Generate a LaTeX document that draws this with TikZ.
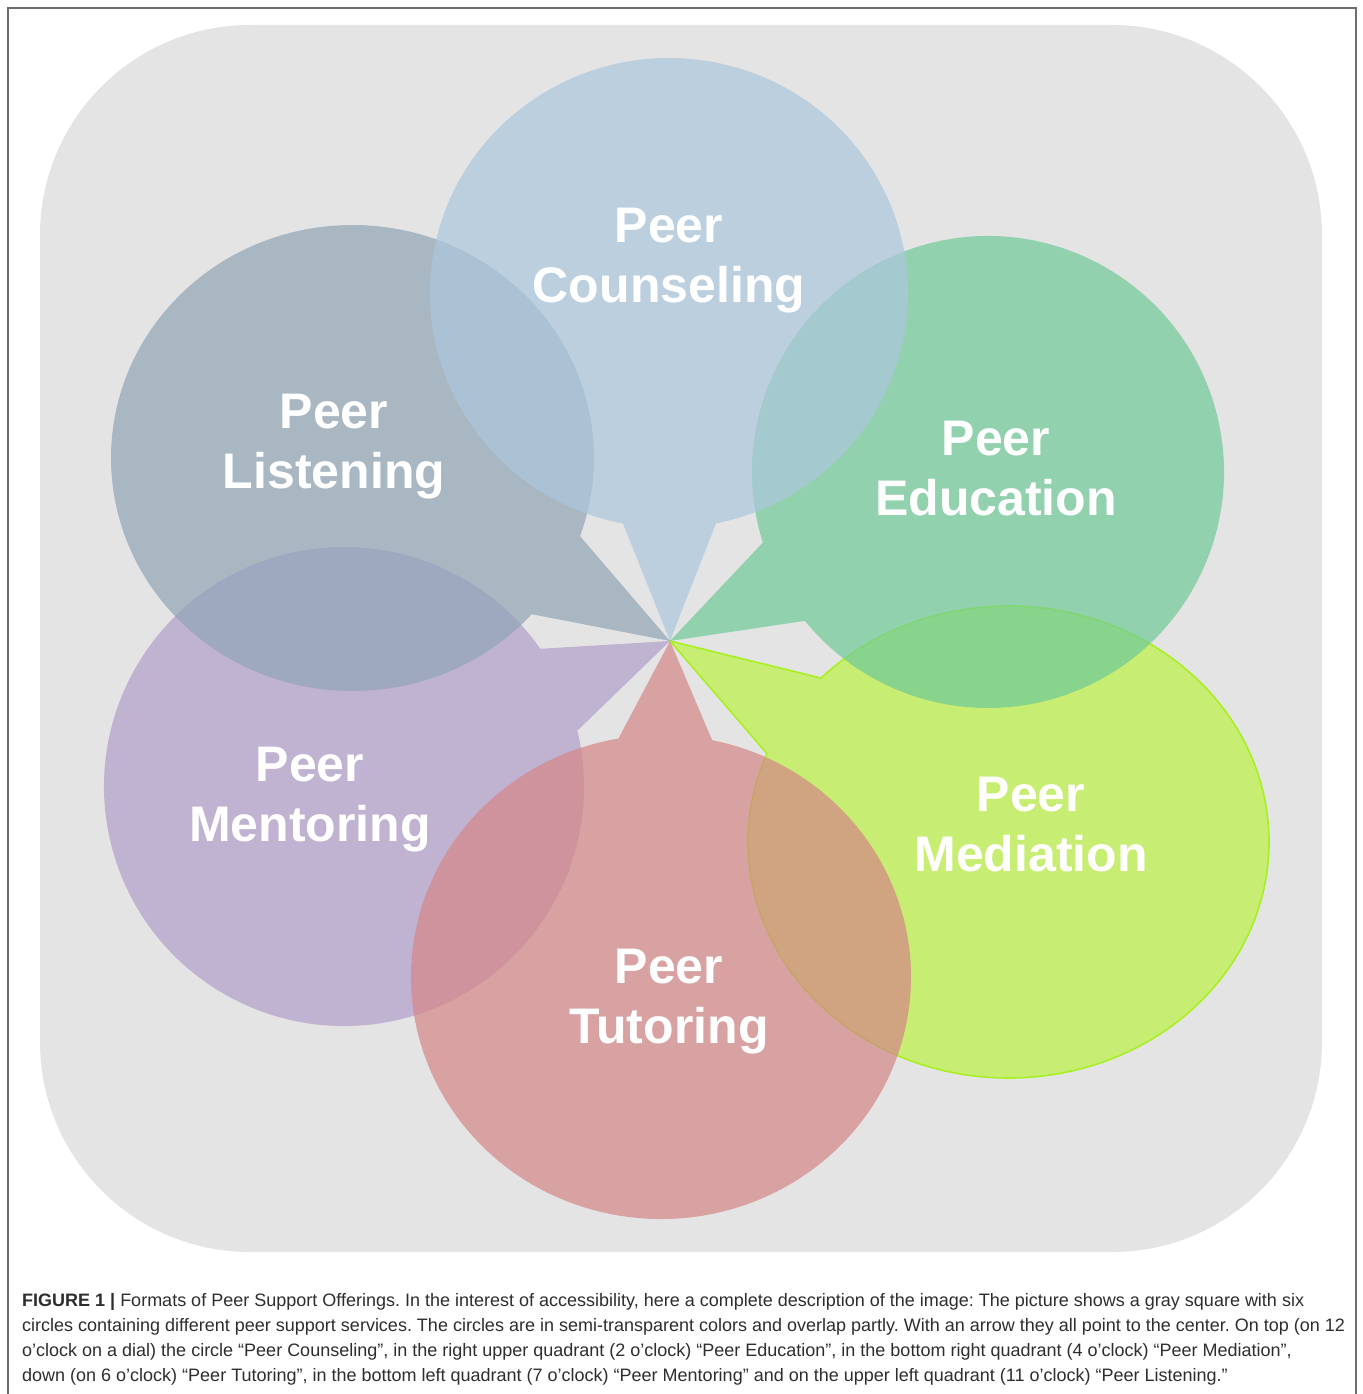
\documentclass[tikz,border=0pt]{standalone}
\usepackage{fontspec}
\setmainfont{Liberation Sans}
\usetikzlibrary{calc}
\frenchspacing

\definecolor{framegray}{RGB}{110,110,110}
\definecolor{panelgray}{RGB}{228,228,228}
\definecolor{captiontext}{RGB}{45,45,45}
\definecolor{counselcol}{RGB}{172,199,222}
\definecolor{listencol}{RGB}{144,164,182}
\definecolor{educol}{RGB}{112,202,152}
\definecolor{mediatecol}{RGB}{188,242,67}
\definecolor{mediateline}{RGB}{168,240,36}
\definecolor{tutorcol}{RGB}{212,134,134}
\definecolor{mentorcol}{RGB}{177,157,202}

% speech bubble: ellipse (centre #2,#3, radii #4,#5) whose outline is
% interrupted between angles #7 and #6 by a wedge running to the hub
\newcommand\speechbubble[7]{%
  \path[#1] (hub) -- ($(#2,#3)+(#6:#4 and #5)$)
    arc[start angle=#6, end angle=#7, x radius=#4, y radius=#5] -- cycle;}

\begin{document}
\begin{tikzpicture}[x=1pt, y=-1pt,
  bubble/.style={fill=#1, fill opacity=0.7},
  bubbletext/.style={text=white, align=center, anchor=north, inner sep=0pt,
    font=\bfseries\fontsize{50}{60}\selectfont},
  captionstyle/.style={text=captiontext, align=left, anchor=north west, inner sep=0pt,
    font=\fontsize{18}{25}\selectfont}]

\useasboundingbox (0,0) rectangle (1362,1394);

% outer figure frame
\draw[framegray, line width=1.5pt] (8,1394) -- (8,8) -- (1356,8) -- (1356,1394);

% gray panel
\fill[panelgray, rounded corners=210pt] (40,25) rectangle (1322,1252);

\coordinate (hub) at (670,641);

% bubbles, back to front
\speechbubble{bubble=mediatecol, draw=mediateline, line width=1.6pt}{1008.5}{842}{260.5}{236}{224}{562}
\speechbubble{bubble=educol}{988}{472}{236}{236}{162.6}{500.9}
\speechbubble{bubble=mentorcol}{344}{786.5}{240}{239.5}{346.5}{684.9}
\speechbubble{bubble=listencol}{352.5}{458}{241.5}{233}{42.1}{379.6}
\speechbubble{bubble=counselcol}{669}{293}{239}{235}{101.1}{438.66}
\speechbubble{bubble=tutorcol}{661}{977}{250}{242}{281.8}{620.2}

% labels
\node[bubbletext] (counseling) at (669,208) {Peer\\Counseling};
\node[bubbletext] (listening)  at (334,394) {Peer\\Listening};
\node[bubbletext] (education)  at (996,421) {Peer\\Education};
\node[bubbletext] (mediation)  at (1031,777) {Peer\\Mediation};
\node[bubbletext] (tutoring)   at (669,949) {Peer\\Tutoring};
\node[bubbletext] (mentoring)  at (310,747) {Peer\\Mentoring};

% caption
\node[captionstyle] (caption) at (22,1293) {%
\textbf{FIGURE 1 |} Formats of Peer Support Offerings. In the interest of accessibility, here a complete description of the image: The picture shows a gray square with six\\
circles containing different peer support services. The circles are in semi-transparent colors and overlap partly. With an arrow they all point to the center. On top (on 12\\
o’clock on a dial) the circle “Peer Counseling”, in the right upper quadrant (2 o’clock) “Peer Education”, in the bottom right quadrant (4 o’clock) “Peer Mediation”,\\
down (on 6 o’clock) “Peer Tutoring”, in the bottom left quadrant (7 o’clock) “Peer Mentoring” and on the upper left quadrant (11 o’clock) “Peer Listening.”};

\end{tikzpicture}
\end{document}
